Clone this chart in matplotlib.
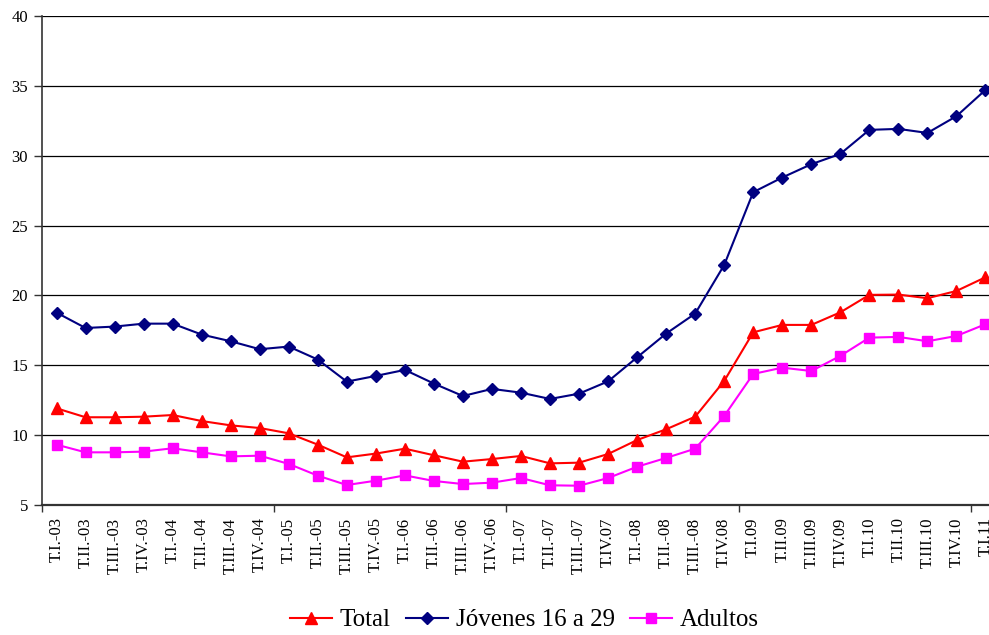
import matplotlib
matplotlib.use("Agg")
import matplotlib.pyplot as plt

labels = ["T.I.-03", "T.II.-03", "T.III.-03", "T.IV.-03",
          "T.I.-04", "T.II.-04", "T.III.-04", "T.IV.-04",
          "T.I.-05", "T.II.-05", "T.III.-05", "T.IV.-05",
          "T.I.-06", "T.II.-06", "T.III.-06", "T.IV.-06",
          "T.I.-07", "T.II.-07", "T.III.-07", "T.IV.07",
          "T.I.-08", "T.II.-08", "T.III.-08", "T.IV.08",
          "T.I.09", "T.II.09", "T.III.09", "T.IV.09",
          "T.I.10", "T.II.10", "T.III.10", "T.IV.10",
          "T.I.11"]

total = [11.92, 11.28, 11.28, 11.32, 11.44, 11.01, 10.70, 10.51,
         10.13, 9.32, 8.41, 8.68, 9.03, 8.56, 8.10, 8.29,
         8.51, 7.98, 8.03, 8.65, 9.65, 10.42, 11.32, 13.88,
         17.36, 17.89, 17.89, 18.79, 20.04, 20.06, 19.80, 20.32,
         21.30]

jovenes = [18.77, 17.67, 17.77, 17.98, 17.98, 17.20, 16.72, 16.15,
           16.34, 15.41, 13.83, 14.24, 14.67, 13.69, 12.80, 13.31,
           13.04, 12.59, 12.97, 13.85, 15.57, 17.27, 18.70, 22.18,
           27.39, 28.44, 29.39, 30.13, 31.85, 31.92, 31.63, 32.83,
           34.71]

adultos = [9.32, 8.77, 8.77, 8.82, 9.06, 8.77, 8.48, 8.53,
           7.94, 7.10, 6.43, 6.74, 7.12, 6.72, 6.50, 6.60,
           6.93, 6.41, 6.38, 6.93, 7.74, 8.37, 9.03, 11.37,
           14.38, 14.83, 14.59, 15.67, 16.98, 17.03, 16.72, 17.10,
           17.94]

yticks = [5, 10, 15, 20, 25, 30, 35, 40]

plt.rcParams['font.family'] = ['Liberation Serif', 'DejaVu Serif']

W, H = 989, 635
fig = plt.figure(figsize=(W / 100, H / 100), dpi=100)
left, right, top, bottom = 42, 1000, 16, 505
ax = fig.add_axes([left / W, (H - bottom) / H, (right - left) / W, (bottom - top) / H])

x = list(range(len(labels)))
ax.plot(x, total, color='#FF0000', lw=1.5, marker='^', ms=8.5, label='Total', zorder=3)
ax.plot(x, jovenes, color='#000080', lw=1.5, marker='D', ms=6, label='Jóvenes 16 a 29', zorder=3)
ax.plot(x, adultos, color='#FF00FF', lw=1.5, marker='s', ms=7.5, label='Adultos', zorder=3)

ax.set_xlim(-0.5, len(labels) - 0.5)
ax.set_ylim(5, 40)
ax.set_yticks(yticks)
ax.set_yticklabels([str(v) for v in yticks], fontsize=12)
ax.yaxis.grid(True, color='black', lw=0.9)
ax.set_axisbelow(True)

ax.set_xticks(x)
ax.set_xticklabels(labels, rotation=90, fontsize=12)
ax.tick_params(axis='x', which='major', length=0, pad=9)
ax.set_xticks([i - 0.5 for i in range(0, len(labels), 8)], minor=True)
ax.tick_params(axis='x', which='minor', length=5, width=1, color='#333333', direction='out')
ax.tick_params(axis='y', length=6, width=1, color='#333333', pad=4)

for s in ['top', 'right']:
    ax.spines[s].set_visible(False)
ax.spines['left'].set_color('#333333')
ax.spines['left'].set_linewidth(1.2)
ax.spines['bottom'].set_color('#333333')
ax.spines['bottom'].set_linewidth(1.6)

fig.legend(loc='center', bbox_to_anchor=(524 / W, (H - 620) / H), ncol=3,
           frameon=False, fontsize=18, handlelength=1.7, columnspacing=0.6,
           handletextpad=0.3, borderaxespad=0)

fig.savefig('out.png', dpi=100)
